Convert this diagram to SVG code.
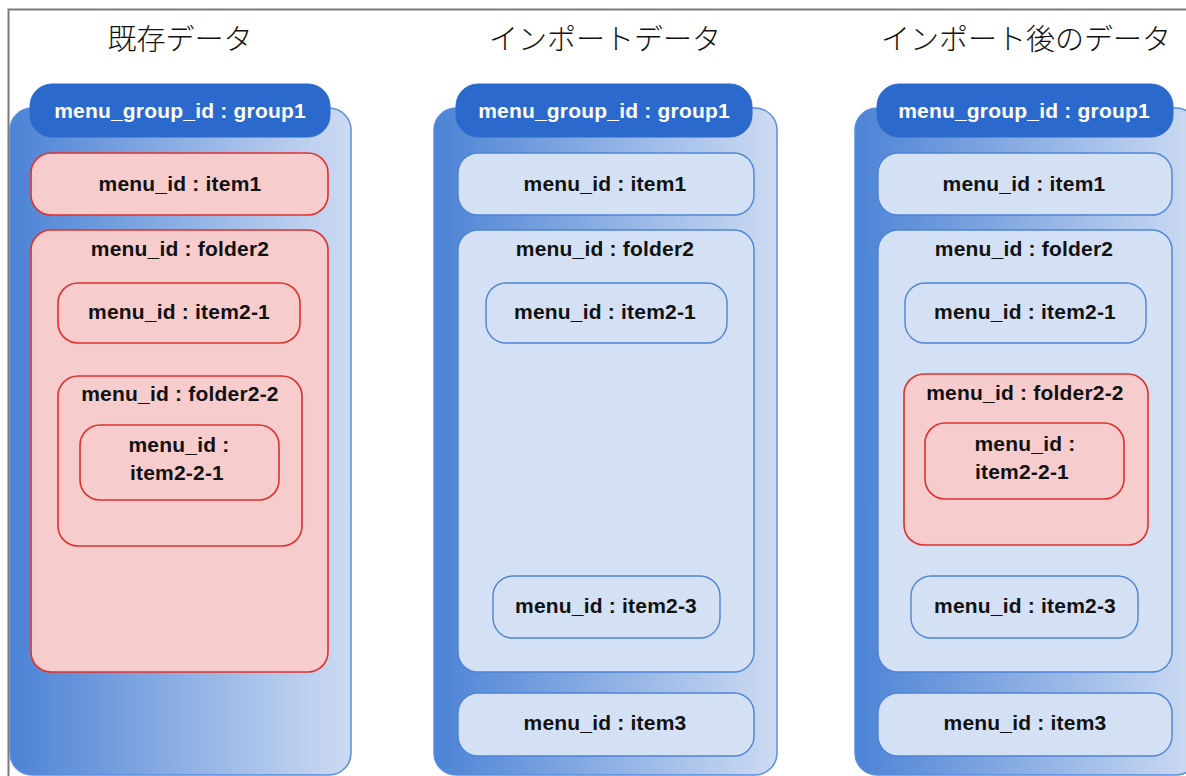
<svg xmlns="http://www.w3.org/2000/svg" width="1186" height="776" viewBox="0 0 1186 776">
<defs>
<linearGradient id="outerGrad" x1="0" y1="0" x2="1" y2="0">
<stop offset="0" stop-color="#4c83d5"/>
<stop offset="1" stop-color="#cddbf2"/>
</linearGradient>
<style>
.outer{fill:url(#outerGrad);stroke:#5a8ddb;stroke-width:1.5}
.hdr{fill:#2b6acc;stroke:#2b6acc;stroke-width:1}
.red{fill:#f6cdcc;stroke:#e0302e;stroke-width:1.6}
.blue{fill:#d4e1f4;stroke:#4c84d8;stroke-width:1.4}
.lbl{font-family:"Liberation Sans",Arial,sans-serif;font-weight:bold;font-size:21px;letter-spacing:0.2px;fill:#111;text-anchor:middle}
.hlbl{font-family:"Liberation Sans",Arial,sans-serif;font-weight:bold;font-size:21px;letter-spacing:0.2px;fill:#ffffff;text-anchor:middle}
.ttl{font-family:"Noto Sans CJK JP","Noto Sans CJK SC",sans-serif;font-weight:300;font-size:29px;fill:#111;text-anchor:middle}
</style>
</defs>
<rect width="1186" height="776" fill="#ffffff"/>
<path d="M8.5 776 V9.5 H1186" fill="none" stroke="#7a7a7a" stroke-width="2"/>

<text class="ttl" x="180" y="50">既存データ</text>
<text class="ttl" x="605" y="50">インポートデータ</text>
<text class="ttl" x="1026" y="50">インポート後のデータ</text>

<g id="col1">
<rect class="outer" x="10" y="108" width="341" height="667" rx="22"/>
<g id="c1-group1"><rect class="hdr" x="30" y="84" width="300" height="53" rx="22"/><text class="hlbl" x="180" y="118">menu_group_id : group1</text></g>
<g id="c1-item1"><rect class="red" x="31" y="153" width="297" height="62" rx="20"/><text class="lbl" x="180" y="191">menu_id : item1</text></g>
<g id="c1-folder2"><rect class="red" x="31" y="230" width="297" height="442" rx="20"/><text class="lbl" x="180" y="256">menu_id : folder2</text></g>
<g id="c1-item2-1"><rect class="red" x="58" y="283" width="242" height="60" rx="20"/><text class="lbl" x="179" y="319">menu_id : item2-1</text></g>
<g id="c1-folder2-2"><rect class="red" x="58" y="376" width="244" height="170" rx="20"/><text class="lbl" x="180" y="401">menu_id : folder2-2</text></g>
<g id="c1-item2-2-1"><rect class="red" x="80" y="425" width="199" height="75" rx="20"/><text class="lbl" x="179" y="452">menu_id :</text><text class="lbl" x="177" y="480">item2-2-1</text></g>
</g>

<g id="col2">
<rect class="outer" x="434" y="108" width="343" height="667" rx="22"/>
<g id="c2-group1"><rect class="hdr" x="456" y="84" width="296" height="53" rx="22"/><text class="hlbl" x="604" y="118">menu_group_id : group1</text></g>
<g id="c2-item1"><rect class="blue" x="458" y="153" width="296" height="62" rx="20"/><text class="lbl" x="605" y="191">menu_id : item1</text></g>
<g id="c2-folder2"><rect class="blue" x="458" y="230" width="296" height="442" rx="20"/><text class="lbl" x="605" y="256">menu_id : folder2</text></g>
<g id="c2-item2-1"><rect class="blue" x="486" y="283" width="241" height="60" rx="20"/><text class="lbl" x="605" y="319">menu_id : item2-1</text></g>
<g id="c2-item2-3"><rect class="blue" x="493" y="576" width="227" height="62" rx="20"/><text class="lbl" x="606" y="613">menu_id : item2-3</text></g>
<g id="c2-item3"><rect class="blue" x="458" y="693" width="296" height="63" rx="20"/><text class="lbl" x="605" y="730">menu_id : item3</text></g>
</g>

<g id="col3">
<rect class="outer" x="855" y="108" width="343" height="667" rx="22"/>
<g id="c3-group1"><rect class="hdr" x="877" y="84" width="296" height="53" rx="22"/><text class="hlbl" x="1024" y="118">menu_group_id : group1</text></g>
<g id="c3-item1"><rect class="blue" x="878" y="153" width="294" height="62" rx="20"/><text class="lbl" x="1024" y="191">menu_id : item1</text></g>
<g id="c3-folder2"><rect class="blue" x="878" y="230" width="294" height="442" rx="20"/><text class="lbl" x="1024" y="256">menu_id : folder2</text></g>
<g id="c3-item2-1"><rect class="blue" x="905" y="283" width="241" height="60" rx="20"/><text class="lbl" x="1025" y="319">menu_id : item2-1</text></g>
<g id="c3-folder2-2"><rect class="red" x="904" y="374" width="244" height="171" rx="20"/><text class="lbl" x="1025" y="400">menu_id : folder2-2</text></g>
<g id="c3-item2-2-1"><rect class="red" x="925" y="423" width="199" height="76" rx="20"/><text class="lbl" x="1025" y="451">menu_id :</text><text class="lbl" x="1022" y="479">item2-2-1</text></g>
<g id="c3-item2-3"><rect class="blue" x="911" y="576" width="227" height="62" rx="20"/><text class="lbl" x="1025" y="613">menu_id : item2-3</text></g>
<g id="c3-item3"><rect class="blue" x="878" y="693" width="294" height="63" rx="20"/><text class="lbl" x="1025" y="730">menu_id : item3</text></g>
</g>

<g id="connectors"></g>
</svg>
